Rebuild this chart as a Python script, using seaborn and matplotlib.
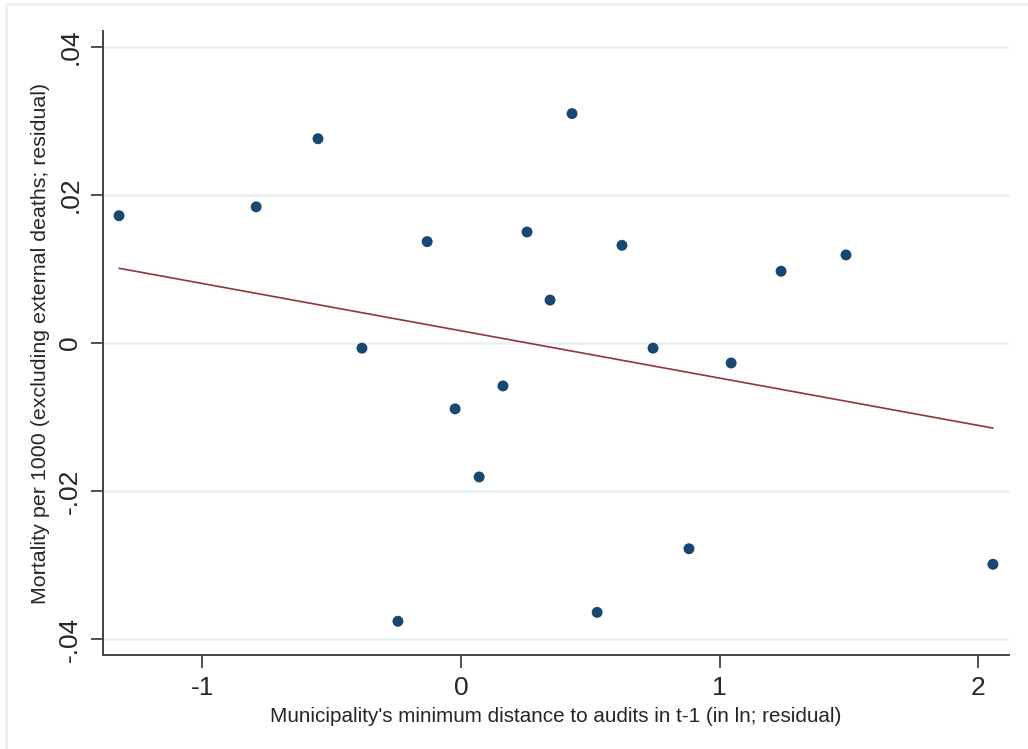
import matplotlib.pyplot as plt
import matplotlib.patches as mpatches
import seaborn as sns
import numpy as np
import pandas as pd

# Residualised binned scatter
dist_resid = [-1.322, -0.792, -0.553, -0.383, -0.244, -0.131, -0.023, 0.070, 0.162, 0.255,
              0.344, 0.429, 0.526, 0.622, 0.742, 0.881, 1.044, 1.237, 1.488, 2.056]
mort_resid = [0.0172, 0.0184, 0.0276, -0.0007, -0.0376, 0.0137, -0.0089, -0.0181, -0.0058, 0.0150,
              0.0058, 0.0310, -0.0364, 0.0132, -0.0007, -0.0278, -0.0027, 0.0097, 0.0119, -0.0299]

fit_x = [-1.322, 2.056]
fit_y = [0.0101, -0.0115]

xticks = [-1, 0, 1, 2]
yticks = [-0.04, -0.02, 0, 0.02, 0.04]
ytick_labels = ['-.04', '-.02', '0', '.02', '.04']

df = pd.DataFrame({'x': dist_resid, 'y': mort_resid})
fit = pd.DataFrame({'x': fit_x, 'y': fit_y})

sns.set_style('white')
plt.rcParams['font.family'] = ['Liberation Sans', 'DejaVu Sans']

fig = plt.figure(figsize=(10.28, 7.49), dpi=100)
ax = fig.add_axes([103 / 1028, 1 - 655 / 749, (1009 - 103) / 1028, (655 - 31) / 749])

# light outer frame like Stata's graph region
fig.patches.append(mpatches.Rectangle((6 / 1028, -0.1), 1.2, (745 / 749) + 0.1,
                                      transform=fig.transFigure, fill=False,
                                      edgecolor='#EAF2F3', linewidth=2, zorder=0))

for yt in yticks:
    ax.axhline(yt, color='#EAF2F3', linewidth=2, zorder=0)

sns.lineplot(data=fit, x='x', y='y', ax=ax, color='#90353B', linewidth=1.2, zorder=2)
sns.scatterplot(data=df, x='x', y='y', ax=ax, s=62, color='#1A476F', edgecolor='none', zorder=3)

ax.set_xlim(-1.384, 2.118)
ax.set_ylim(-0.04216, 0.04216)
ax.set_xticks(xticks)
ax.set_xticklabels(['-1', '0', '1', '2'])
ax.set_yticks(yticks)
ax.set_yticklabels(ytick_labels, rotation=90, va='center')

ax.tick_params(axis='both', which='major', direction='out', length=9, width=1.2,
               color='#333333', labelsize=19, pad=6, left=True, bottom=True)

for side in ['top', 'right']:
    ax.spines[side].set_visible(False)
for side in ['left', 'bottom']:
    ax.spines[side].set_color('#444444')
    ax.spines[side].set_linewidth(1.4)

ax.set_xlabel("Municipality's minimum distance to audits in t-1 (in ln; residual)", fontsize=14.9, labelpad=5)
ax.set_ylabel('Mortality per 1000 (excluding external deaths; residual)', fontsize=15.4, labelpad=6)

fig.savefig('out.png', dpi=100)
